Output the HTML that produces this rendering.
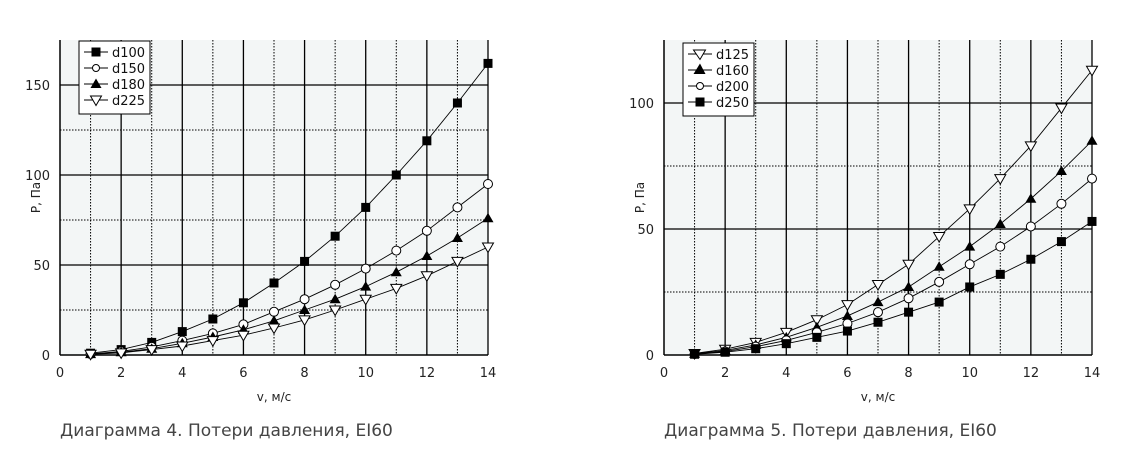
<!DOCTYPE html>
<html><head><meta charset="utf-8"><style>
html,body{margin:0;padding:0;background:#fff;width:1140px;height:474px;overflow:hidden}
svg text{font-family:"DejaVu Sans","Liberation Sans",sans-serif}
</style></head><body>
<svg id="s" width="1140" height="474" xmlns="http://www.w3.org/2000/svg"></svg>
<script>
const s=document.getElementById('s');let h='';
function chart(o){
 const X=v=>o.x0+v*(o.x1-o.x0)/14, Y=p=>o.y0-p*o.k;
 h+=`<rect x="${o.x0}" y="${o.top}" width="${o.x1-o.x0}" height="${o.y0-o.top}" fill="#f3f6f6"/>`;
 for(let v=1;v<=14;v++){const x=X(v);h+=`<line x1="${x}" y1="${o.top}" x2="${x}" y2="${o.y0}" stroke="#000" stroke-width="${v%2?1:1.3}" ${v%2?'stroke-dasharray="1.5,1.5"':''}/>`;}
 for(let p=25;Y(p)>o.top;p+=25){const y=Y(p);const maj=p%50==0;h+=`<line x1="${o.x0}" y1="${y}" x2="${o.x1}" y2="${y}" stroke="#000" stroke-width="${maj?1.3:1}" ${maj?'':'stroke-dasharray="1.5,1.5"'}/>`;if(maj)h+=`<text x="${o.x0-10}" y="${y+5}" font-size="13" text-anchor="end" fill="#222">${p}</text>`;}
 h+=`<text x="${o.x0-10}" y="${o.y0+5}" font-size="13" text-anchor="end" fill="#222">0</text>`;
 h+=`<line x1="${o.x0}" y1="${o.top}" x2="${o.x0}" y2="${o.y0}" stroke="#000" stroke-width="1.5"/><line x1="${o.x0}" y1="${o.y0}" x2="${o.x1}" y2="${o.y0}" stroke="#000" stroke-width="1.5"/>`;
 for(let v=0;v<=14;v+=2)h+=`<text x="${X(v)}" y="${o.y0+22}" font-size="13" text-anchor="middle" fill="#222">${v}</text>`;
 h+=`<text x="${(o.x0+o.x1)/2}" y="${o.y0+46}" font-size="12" text-anchor="middle" fill="#222">v, м/с</text>`;
 h+=`<text transform="translate(${o.x0-20},${(o.top+o.y0)/2}) rotate(-90)" font-size="12" text-anchor="middle" fill="#222">P, Па</text>`;
 h+=`<text x="${o.x0}" y="436" font-size="17" fill="#444">${o.cap}</text>`;
 function mk(t,x,y){
  if(t=='sq')return `<rect x="${x-4.5}" y="${y-4.5}" width="9" height="9" fill="#000"/>`;
  if(t=='ci')return `<circle cx="${x}" cy="${y}" r="4.5" fill="#fff" stroke="#000"/>`;
  if(t=='tu')return `<polygon points="${x},${y-5.5} ${x+5.5},${y+4} ${x-5.5},${y+4}" fill="#000"/>`;
  return `<polygon points="${x-5.5},${y-4} ${x+5.5},${y-4} ${x},${y+5.5}" fill="#fff" stroke="#000"/>`;}
 o.ser.forEach(sr=>{
  const pts=sr.d.map((p,i)=>[X(i+1),Y(p)]);
  h+=`<polyline points="${pts.map(p=>p.join(',')).join(' ')}" fill="none" stroke="#000" stroke-width="0.9"/>`;
  pts.forEach(p=>h+=mk(sr.m,p[0],p[1]));});
 const lx=o.lx,ly=o.ly;
 h+=`<rect x="${lx}" y="${ly}" width="71" height="73" fill="#fff" stroke="#000"/>`;
 o.ser.forEach((sr,i)=>{const y=ly+11+i*16;h+=`<line x1="${lx+5}" y1="${y}" x2="${lx+29}" y2="${y}" stroke="#000"/>`+mk(sr.m,lx+17,y).replace(/4\.5/g,'3.5')+`<text x="${lx+33}" y="${y+5}" font-size="13" fill="#111">${sr.n}</text>`;});
}
chart({x0:60,x1:488,y0:355,top:40,k:1.8,lx:79,ly:41,cap:'Диаграмма 4. Потери давления, EI60',ser:[
{n:'d100',m:'sq',d:[1,3,7,13,20,29,40,52,66,82,100,119,140,162]},
{n:'d150',m:'ci',d:[0.6,2,4.5,8,12,17,24,31,39,48,58,69,82,95]},
{n:'d180',m:'tu',d:[0.5,1.5,3.5,6.5,10,14,19,25,31,38,46,55,65,76]},
{n:'d225',m:'td',d:[0.4,1.2,3,5,8,11,15,19.5,25,31,37,44,52,60]}]});
chart({x0:664,x1:1092,y0:355,top:40,k:2.52,lx:683,ly:43,cap:'Диаграмма 5. Потери давления, EI60',ser:[
{n:'d125',m:'td',d:[0.6,2.3,5,9,14,20,28,36,47,58,70,83,98,113]},
{n:'d160',m:'tu',d:[0.5,1.8,4,7,11,15.5,21,27,35,43,52,62,73,85]},
{n:'d200',m:'ci',d:[0.4,1.4,3.3,5.8,9,12.5,17,22.5,29,36,43,51,60,70]},
{n:'d250',m:'sq',d:[0.3,1.1,2.5,4.5,7,9.5,13,17,21,27,32,38,45,53]}]});
s.innerHTML=h;
</script>
</body></html>
